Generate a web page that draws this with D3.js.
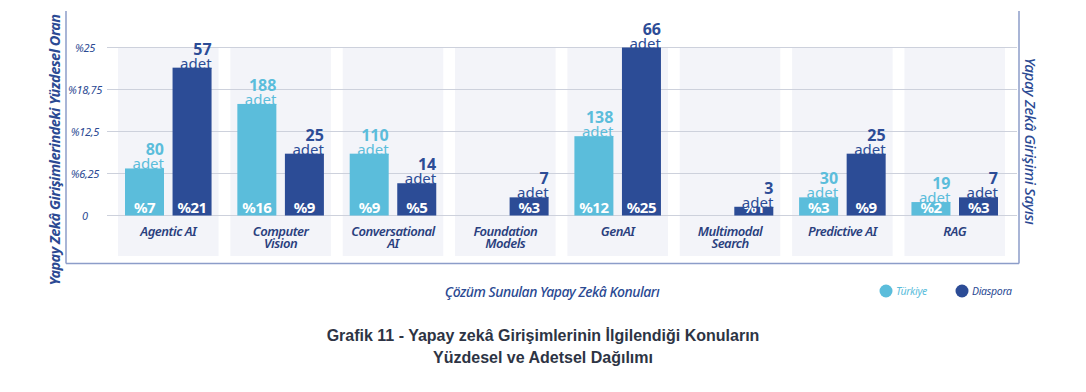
<!DOCTYPE html>
<html>
<head>
<meta charset="utf-8">
<script src="https://cdn.jsdelivr.net/npm/d3@7"></script>
<style>
  body { margin: 0; background: #fff; }
  svg { display: block; font-family: "Noto Sans", "Open Sans", sans-serif; }
</style>
</head>
<body>
<svg id="chart" width="1086" height="392"></svg>
<script>
const categories = ["Agentic AI", "Computer Vision", "Conversational AI", "Foundation Models", "GenAI", "Multimodal Search", "Predictive AI", "RAG"];
const categoryLines = [["Agentic AI"], ["Computer", "Vision"], ["Conversational", "AI"], ["Foundation", "Models"], ["GenAI"], ["Multimodal", "Search"], ["Predictive AI"], ["RAG"]];
const series = ["Türkiye", "Diaspora"];
// bar heights (percent)
const turkiyeValues = [7, 16.6, 9.2, null, 11.8, null, 2.7, 2.0];
const diasporaValues = [22, 9.2, 4.8, 2.7, 25, 1.3, 9.2, 2.7];
// labels printed on the bars
const turkiyePct = ["%7", "%16", "%9", null, "%12", null, "%3", "%2"];
const diasporaPct = ["%21", "%9", "%5", "%3", "%25", "%1", "%9", "%3"];
const turkiyeCount = [80, 188, 110, null, 138, null, 30, 19];
const diasporaCount = [57, 25, 14, 7, 66, 3, 25, 7];
const yTicks = [0, 6.25, 12.5, 18.75, 25];
const yTickLabels = ["0", "%6,25", "%12,5", "%18,75", "%25"];

const colors = { "Türkiye": "#5bbddb", "Diaspora": "#2c4c96" };
const navy = "#2b4a93";

const svg = d3.select("#chart");

const x = d3.scaleBand().domain(categories).range([118, 1005]).paddingInner(0.105).paddingOuter(0);
const xInner = d3.scaleBand().domain(series).range([7, x.bandwidth() - 7]).paddingInner(0.18);
const y = d3.scaleLinear().domain([0, 25]).range([215.5, 47.5]);

// panel backgrounds
svg.selectAll(".panel")
  .data(categories)
  .join("rect")
  .attr("class", "panel")
  .attr("x", d => x(d))
  .attr("y", y(25))
  .attr("width", x.bandwidth())
  .attr("height", 256 - y(25))
  .attr("fill", "#f3f4f9");

// gridlines
svg.selectAll(".grid")
  .data(yTicks)
  .join("line")
  .attr("class", "grid")
  .attr("x1", 107).attr("x2", 1017)
  .attr("y1", d => y(d)).attr("y2", d => y(d))
  .attr("stroke", "#cdd1dc")
  .attr("stroke-width", 1.2);

// y tick labels
svg.selectAll(".ytick")
  .data(yTicks)
  .join("text")
  .attr("class", "ytick")
  .attr("x", 85)
  .attr("y", d => y(d) + 4)
  .attr("text-anchor", "middle")
  .attr("font-size", 11)
  .attr("font-style", "italic")
  .attr("letter-spacing", -0.3)
  .attr("fill", navy)
  .text((d, i) => yTickLabels[i]);

// frame lines
const frame = svg.append("g").attr("stroke", "#8c9dc9").attr("stroke-width", 1.5);
frame.append("line").attr("x1", 66).attr("x2", 66).attr("y1", 11).attr("y2", 263.5);
frame.append("line").attr("x1", 1019).attr("x2", 1019).attr("y1", 11).attr("y2", 263.5);
frame.append("line").attr("x1", 66).attr("x2", 1019).attr("y1", 263.5).attr("y2", 263.5);

// bar data
const bars = [];
categories.forEach((c, i) => {
  bars.push({ cat: c, s: "Türkiye", v: turkiyeValues[i], pct: turkiyePct[i], n: turkiyeCount[i] });
  bars.push({ cat: c, s: "Diaspora", v: diasporaValues[i], pct: diasporaPct[i], n: diasporaCount[i] });
});
const shown = bars.filter(d => d.v != null);

const g = svg.append("g");
g.selectAll(".bar")
  .data(shown)
  .join("rect")
  .attr("class", "bar")
  .attr("x", d => x(d.cat) + xInner(d.s))
  .attr("y", d => y(d.v))
  .attr("width", xInner.bandwidth())
  .attr("height", d => y(0) - y(d.v))
  .attr("fill", d => colors[d.s]);

// percent labels inside bars
g.selectAll(".pct")
  .data(shown)
  .join("text")
  .attr("class", "pct")
  .attr("x", d => x(d.cat) + xInner(d.s) + xInner.bandwidth() / 2)
  .attr("y", y(0) - 3)
  .attr("text-anchor", "middle")
  .attr("font-size", 15)
  .attr("font-weight", "bold")
  .attr("letter-spacing", -0.5)
  .attr("fill", "#fff")
  .text(d => d.pct);

// count labels above bars
g.selectAll(".count")
  .data(shown)
  .join("text")
  .attr("class", "count")
  .attr("x", d => x(d.cat) + xInner(d.s) + xInner.bandwidth())
  .attr("y", d => y(d.v) - 13)
  .attr("text-anchor", "end")
  .attr("font-size", 16)
  .attr("font-weight", "bold")
  .attr("fill", d => colors[d.s])
  .text(d => d.n);

g.selectAll(".adet")
  .data(shown)
  .join("text")
  .attr("class", "adet")
  .attr("x", d => x(d.cat) + xInner(d.s) + xInner.bandwidth())
  .attr("y", d => y(d.v) + 1)
  .attr("text-anchor", "end")
  .attr("font-size", 15)
  .attr("fill", d => colors[d.s])
  .text("adet");

// category labels
const cl = svg.selectAll(".cat")
  .data(categories)
  .join("text")
  .attr("class", "cat")
  .attr("x", d => x(d) + x.bandwidth() / 2)
  .attr("y", 236)
  .attr("text-anchor", "middle")
  .attr("font-size", 13)
  .attr("font-style", "italic")
  .attr("font-weight", 600)
  .attr("fill", "#2a3f7e");
cl.selectAll("tspan")
  .data((d, i) => categoryLines[i])
  .join("tspan")
  .attr("x", function () { return d3.select(this.parentNode).attr("x"); })
  .attr("dy", (d, i) => i === 0 ? 0 : 12)
  .attr("letter-spacing", -0.5)
  .text(d => d);

// axis titles
svg.append("text")
  .attr("transform", "translate(60,150) rotate(-90)")
  .attr("text-anchor", "middle")
  .attr("font-size", 14.5)
  .attr("font-style", "italic")
  .attr("font-weight", "bold")
  .attr("letter-spacing", -0.5)
  .attr("fill", navy)
  .text("Yapay Zekâ Girişimlerindeki Yüzdesel Oran");

svg.append("text")
  .attr("transform", "translate(1025,141) rotate(90)")
  .attr("text-anchor", "middle")
  .attr("font-size", 15)
  .attr("font-style", "italic")
  .attr("font-weight", 500)
  .attr("letter-spacing", -0.3)
  .attr("fill", navy)
  .text("Yapay Zekâ Girişimi Sayısı");

svg.append("text")
  .attr("x", 552)
  .attr("y", 297)
  .attr("text-anchor", "middle")
  .attr("font-size", 14)
  .attr("font-style", "italic")
  .attr("font-weight", 500)
  .attr("letter-spacing", -0.5)
  .attr("fill", navy)
  .text("Çözüm Sunulan Yapay Zekâ Konuları");

// legend
const legend = svg.selectAll(".legend")
  .data(series)
  .join("g")
  .attr("class", "legend")
  .attr("transform", (d, i) => `translate(${886 + i * 76},291)`);
legend.append("circle").attr("r", 6.5).attr("fill", d => colors[d]);
legend.append("text")
  .attr("x", 10)
  .attr("y", 4)
  .attr("font-size", 10.5)
  .attr("font-style", "italic")
  .attr("letter-spacing", -0.3)
  .attr("fill", d => d === "Türkiye" ? colors[d] : navy)
  .text(d => d);

// caption
const cap = svg.append("text")
  .attr("text-anchor", "middle")
  .attr("font-family", "'Liberation Sans Narrow', 'Liberation Sans', Arial, sans-serif")
  .attr("font-size", 16)
  .attr("font-weight", "bold")
  .attr("fill", "#2d3444");
cap.append("tspan").attr("x", 543).attr("y", 341).text("Grafik 11 - Yapay zekâ Girişimlerinin İlgilendiği Konuların");
cap.append("tspan").attr("x", 543).attr("y", 363).text("Yüzdesel ve Adetsel Dağılımı");
</script>
</body>
</html>
